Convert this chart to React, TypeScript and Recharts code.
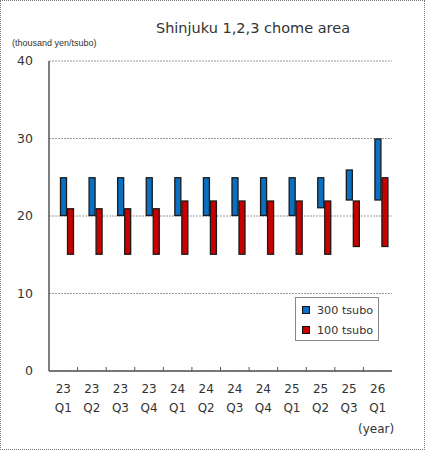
import React from "react";
import { ComposedChart, Bar, XAxis, YAxis, CartesianGrid } from "recharts";

const years = ["23", "23", "23", "23", "24", "24", "24", "24", "25", "25", "25", "26"];
const quarters = ["Q1", "Q2", "Q3", "Q4", "Q1", "Q2", "Q3", "Q4", "Q1", "Q2", "Q3", "Q1"];
const low300 = [20, 20, 20, 20, 20, 20, 20, 20, 20, 21, 22, 22];
const high300 = [25, 25, 25, 25, 25, 25, 25, 25, 25, 25, 26, 30];
const low100 = [15, 15, 15, 15, 15, 15, 15, 15, 15, 15, 16, 16];
const high100 = [21, 21, 21, 21, 22, 22, 22, 22, 22, 22, 22, 25];
const yTicks = [0, 10, 20, 30, 40];
const seriesNames = ["300 tsubo", "100 tsubo"];

const BLUE = "#0a70c4";
const RED = "#c80000";
const TEXT = "#333333";
const FONT = "'DejaVu Sans', Verdana, sans-serif";

const data = years.map((y, i) => ({
  cat: y + "|" + quarters[i],
  year: y,
  q: quarters[i],
  r300: [low300[i], high300[i]],
  r100: [low100[i], high100[i]],
}));

const XTick = (props: any) => {
  const { x, y, payload, index } = props;
  const off = payload && payload.offset != null ? payload.offset : 14.3;
  const [yr, q] = String(payload.value).split("|");
  return (
    <g>
      {index < years.length - 1 && (
        <line x1={x + off} x2={x + off} y1={y} y2={y - 4} stroke="#555" strokeWidth={1} />
      )}
      <text x={x} y={y + 18} textAnchor="middle" dominantBaseline="central" fontSize={12} fill={TEXT} fontFamily={FONT}>
        {yr}
      </text>
      <text x={x} y={y + 37} textAnchor="middle" dominantBaseline="central" fontSize={12} fill={TEXT} fontFamily={FONT}>
        {q}
      </text>
    </g>
  );
};

const makeShape = (color: string) => (props: any) => {
  const { x, y, width, height } = props;
  if (width == null || height == null || isNaN(x) || isNaN(y)) return <g />;
  const h = Math.abs(height);
  const top = height < 0 ? y + height : y;
  return <rect x={x + 0.5} y={top + 0.5} width={Math.max(width - 1, 0)} height={Math.max(h - 1, 0)} fill={color} stroke="#1a1a1a" strokeWidth={1.3} />;
};

export default function App() {
  return (
    <div style={{ position: "absolute", left: 0, top: 0, width: 425, height: 450, background: "#fff" }}>
      <ComposedChart
        width={425}
        height={450}
        data={data}
        margin={{ top: 61, right: 33, bottom: 0, left: 0 }}
        barGap={0}
      >
        <CartesianGrid vertical={false} stroke="#999" strokeDasharray="2 1" />
        <XAxis
          dataKey="cat"
          height={79}
          tickSize={0}
          tickMargin={0}
          tick={<XTick />}
          interval={0}
          axisLine={{ stroke: "#555", strokeWidth: 1.5 }}
        />
        <YAxis
          domain={[0, 40]}
          ticks={yTicks}
          width={49}
          tickLine={false}
          tickMargin={10}
          axisLine={{ stroke: "#555", strokeWidth: 1.5 }}
          tick={{ fontSize: 12.5, fill: TEXT, fontFamily: FONT }}
          interval={0}
        />
        <YAxis
          yAxisId="right"
          orientation="right"
          domain={[0, 40]}
          width={0}
          tick={false}
          tickLine={false}
          axisLine={{ stroke: "#999", strokeDasharray: "2 1" }}
        />
        <Bar dataKey="pad" barSize={7} fill="none" isAnimationActive={false} />
        <Bar dataKey="r300" name={seriesNames[0]} barSize={7} fill={BLUE} shape={makeShape(BLUE)} isAnimationActive={false} />
        <Bar dataKey="r100" name={seriesNames[1]} barSize={7} fill={RED} shape={makeShape(RED)} isAnimationActive={false} />
      </ComposedChart>

      <div
        style={{
          position: "absolute",
          left: 0,
          top: 18,
          width: 425,
          paddingLeft: 81,
          boxSizing: "border-box",
          textAlign: "center",
          fontFamily: FONT,
          fontSize: 14.5,
          color: TEXT,
          lineHeight: "20px",
        }}
      >
        Shinjuku 1,2,3 chome area
      </div>
      <div
        style={{
          position: "absolute",
          left: 12,
          top: 37,
          fontFamily: "'Liberation Sans Narrow', 'Liberation Sans', Arial, sans-serif",
          fontSize: 9,
          color: TEXT,
          lineHeight: "12px",
          whiteSpace: "nowrap",
        }}
      >
        (thousand yen/tsubo)
      </div>
      <div
        style={{
          position: "absolute",
          left: 358,
          top: 421,
          fontFamily: FONT,
          fontSize: 12,
          color: TEXT,
          lineHeight: "16px",
          whiteSpace: "nowrap",
        }}
      >
        (year)
      </div>
      <div
        style={{
          position: "absolute",
          left: 295,
          top: 297,
          width: 84,
          height: 44,
          boxSizing: "border-box",
          border: "1px solid #888",
          background: "#fff",
          fontFamily: FONT,
          fontSize: 11.2,
          color: TEXT,
        }}
      >
        {seriesNames.map((n, i) => (
          <div key={n} style={{ position: "absolute", left: 6, top: 4 + i * 20, height: 16, display: "flex", alignItems: "center", whiteSpace: "nowrap" }}>
            <span
              style={{
                display: "inline-block",
                width: 6,
                height: 6,
                border: "1px solid #111",
                background: i === 0 ? BLUE : RED,
                marginRight: 7,
              }}
            />
            {n}
          </div>
        ))}
      </div>
      <div
        style={{
          position: "absolute",
          left: 0,
          top: 0,
          width: 425,
          height: 450,
          boxSizing: "border-box",
          border: "1px dotted #777",
          pointerEvents: "none",
        }}
      />
    </div>
  );
}
